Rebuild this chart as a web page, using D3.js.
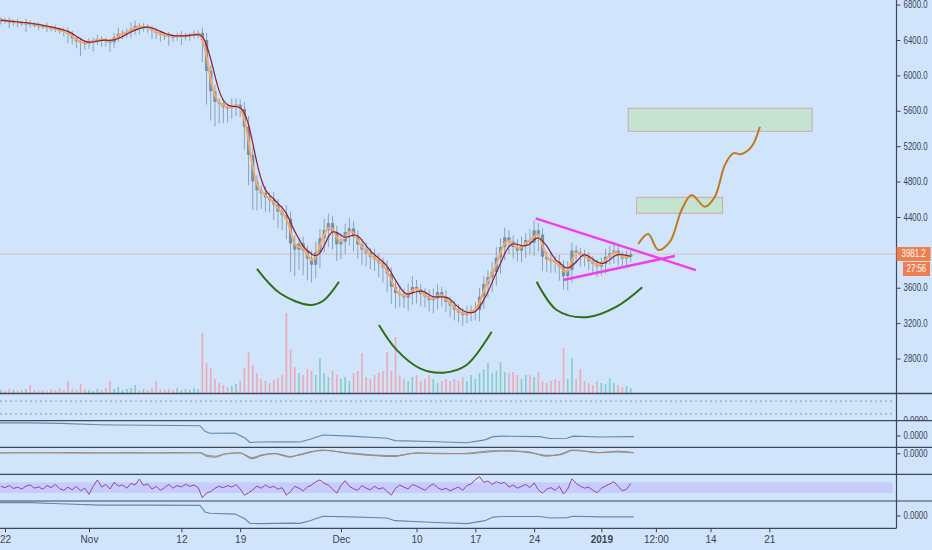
<!DOCTYPE html>
<html lang="en">
<head>
    <meta charset="UTF-8">
    <title>BTC 1h chart with drawings</title>
    <script src="https://d3js.org/d3.v7.min.js"></script>
    <style>
        body {
            margin: 0;
            background: #d0e5fb;
        }
        svg {
            display: block;
        }
    </style>
</head>
<body>
    <svg id="chart" width="932" height="550"></svg>
    <script>
        // 12h bars, first bar Oct 21 12:00
        const closes = [
            6625, 6615, 6600, 6610, 6595, 6590, 6592, 6580, 6570, 6560,
            6555, 6540, 6535, 6520, 6510, 6490, 6475, 6420, 6385, 6370,
            6360, 6380, 6395, 6410, 6405, 6385, 6375, 6430, 6470, 6480,
            6490, 6520, 6560, 6545, 6550, 6540, 6510, 6480, 6460, 6450,
            6445, 6440, 6450, 6445, 6450, 6460, 6470, 6480, 6400, 6050,
            5820, 5700, 5680, 5640, 5630, 5650, 5670, 5620, 5420, 5100,
            4800, 4700, 4670, 4620, 4590, 4540, 4460, 4420, 4380, 4100,
            4030, 4100, 4020, 3930, 3860, 4000, 4160, 4250, 4330, 4230,
            4090, 4120, 4230, 4270, 4180, 4090, 4030, 3990, 3950, 3920,
            3880, 3830, 3760, 3610, 3540, 3520, 3490, 3540, 3610, 3580,
            3530, 3500, 3460, 3480, 3550, 3500, 3440, 3400, 3350, 3320,
            3290, 3320, 3340, 3350, 3500, 3640, 3720, 3780, 3940, 4060,
            4170, 4120, 4060, 4020, 4080, 4140, 4110, 4250, 4200, 3950,
            3920, 3900, 3890, 3840, 3730, 3800, 4020, 4000, 3970, 3950,
            3900, 3870, 3840, 3870, 3950, 3990, 4020, 3960, 3930, 3950, 3981.2
        ];
        const wickUp = [
            30, 20, 40, 20, 30, 20, 50, 30, 20, 30,
            20, 40, 20, 30, 20, 30, 50, 30, 20, 30,
            20, 40, 30, 50, 30, 20, 30, 50, 70, 30,
            40, 80, 60, 30, 40, 30, 20, 30, 20, 30,
            40, 20, 30, 50, 30, 20, 40, 30, 60, 80,
            60, 70, 40, 50, 40, 90, 70, 60, 80, 120,
            90, 70, 60, 80, 60, 90, 60, 70, 110, 80,
            90, 70, 80, 60, 90, 120, 100, 130, 110, 80,
            70, 100, 90, 120, 80, 70, 60, 80, 60, 90,
            70, 60, 80, 70, 60, 90, 70, 110, 120, 80,
            60, 70, 80, 110, 90, 60, 70, 60, 50, 60,
            50, 70, 60, 90, 100, 90, 80, 110, 120, 100,
            110, 80, 70, 90, 100, 80, 120, 110, 80, 70,
            60, 70, 60, 80, 70, 100, 90, 60, 50, 60,
            50, 60, 50, 70, 90, 80, 100, 60, 50, 70, 40
        ];
        const wickDown = [
            50, 30, 70, 40, 50, 30, 100, 40, 30, 50,
            30, 50, 40, 30, 40, 50, 110, 70, 80, 150,
            70, 60, 110, 50, 80, 60, 110, 70, 50, 60,
            50, 70, 60, 80, 50, 60, 100, 70, 80, 50,
            110, 60, 50, 100, 50, 60, 40, 50, 250, 380,
            330, 280, 220, 180, 160, 120, 110, 90, 260, 340,
            320, 230, 180, 160, 140, 180, 190, 170, 230, 320,
            300, 230, 280, 240, 200, 150, 180, 160, 190, 200,
            190, 170, 140, 150, 170, 160, 170, 150, 140, 130,
            160, 170, 210, 190, 170, 140, 120, 150, 130, 160,
            140, 120, 130, 150, 130, 110, 120, 130, 120, 110,
            120, 90, 100, 110, 130, 140, 150, 170, 160, 180,
            150, 140, 130, 120, 130, 140, 130, 150, 190, 160,
            140, 130, 120, 160, 150, 160, 140, 120, 130, 110,
            100, 110, 120, 100, 110, 90, 120, 110, 90, 80, 60
        ];
        const volumes = [
            3, 2, 4, 3, 2, 3, 4, 8, 3, 2,
            3, 2, 4, 3, 5, 3, 12, 4, 3, 9,
            4, 3, 2, 4, 3, 5, 12, 4, 6, 3,
            4, 5, 8, 3, 4, 3, 5, 12, 4, 3,
            4, 3, 5, 3, 4, 3, 5, 4, 60, 30,
            25, 14, 10, 8, 6, 7, 9, 12, 25, 41,
            28, 20, 14, 12, 10, 13, 15, 18, 80, 44,
            26, 20, 18, 24, 22, 18, 35, 20, 16, 22,
            18, 14, 16, 12, 20, 22, 40, 16, 14, 18,
            20, 22, 41, 22, 56, 18, 14, 12, 16, 18,
            12, 14, 18, 14, 10, 12, 14, 12, 14, 12,
            16, 12, 18, 14, 20, 24, 30, 20, 22, 31,
            21, 20, 21, 18, 14, 18, 18, 16, 21, 12,
            10, 12, 14, 12, 45, 14, 35, 14, 24, 12,
            10, 8, 12, 10, 9, 15, 10, 8, 6, 7, 5
        ];
        const rsiValues = [
            55, 50, 58, 47, 52, 45, 56, 60, 48, 53,
            44, 58, 50, 62, 46, 40, 52, 42, 55, 38,
            48, 25, 55, 79, 52, 62, 45, 70, 56, 60,
            48, 66, 60, 82, 58, 64, 44, 55, 40, 50,
            62, 48, 58, 52, 63, 55, 60, 50, 12, 30,
            35, 48, 55, 50, 58, 52, 62, 45, 22, 30,
            42, 56, 48, 60, 50, 55, 44, 50, 22, 35,
            55, 48, 38, 52, 60, 72, 79, 66, 60, 45,
            29, 58, 76, 55, 46, 40, 58, 48, 42, 55,
            45, 50, 35, 22, 48, 60, 52, 45, 62, 56,
            48, 40, 55, 64, 50, 42, 48, 38, 46, 52,
            40, 58, 64, 80, 91, 70, 75, 62, 72, 66,
            70, 52, 60, 48, 55, 62, 50, 68, 42, 29,
            45, 50, 40, 55, 26, 45, 83, 66, 55, 48,
            52, 40, 31, 48, 56, 64, 72, 55, 38, 44, 66
        ];

        // slower indicator panes, days from Oct 22
        const indDays = [-0.6, 2.98, 6.55, 11.31, 13.1, 17.26, 23.21, 23.81, 24.4, 27.38, 28.57, 29.17, 30.36, 33.93, 35.12, 36.31,
            37.86, 41.07, 45.48, 46.43, 50.6, 55, 57.14, 58.1, 59.29, 63.69, 64.88, 66.9, 67.62, 70.83, 74.88];
        const ind1Values = [92, 92, 90, 85, 84, 83, 81, 60, 53, 54, 35, 18, 20, 21, 20, 30, 46, 42, 34, 25, 22, 17, 28, 40, 42, 40, 33, 34, 42, 39, 40];
        const ind4Values = [94, 94, 90, 85, 85, 85, 84, 60, 55, 52, 35, 18, 17, 19, 18, 28, 44, 42, 38, 28, 22, 17, 28, 41, 43, 43, 38, 39, 44, 42, 42];
        const oscDays = [-0.6, 5.36, 11.31, 17.26, 23.21, 24.05, 25, 26.19, 27.98, 29.4, 30.6, 32.14, 33.93, 35.12, 37.86, 40.71,
            43.1, 46.19, 49.05, 51.79, 55, 58.1, 59.76, 62.5, 64.52, 66.07, 67.62, 70.83, 72.86, 74.88];
        const oscA = [80, 80, 79, 80, 80, 66, 63, 75, 79, 58, 70, 76, 63, 74, 90, 78, 71, 66, 80, 76, 78, 87, 86, 82, 67, 74, 90, 80, 85, 80];
        const oscB = [79, 80, 80, 79, 80, 70, 67, 76, 80, 62, 72, 78, 66, 72, 88, 80, 73, 69, 78, 78, 76, 85, 88, 80, 70, 72, 88, 81, 83, 80];
        const levelLines = [72, 25];
        const rsiBand = [30, 70];

        // drawings, [day from Oct 22, price]
        const arcLeft = [[30.0, 3812], [32.74, 3537], [36.31, 3405], [37.89, 3453], [39.76, 3668]];
        const arcMiddle = [[44.52, 3179], [46.63, 2897], [49.4, 2689], [52.18, 2640], [54.96, 2727], [57.94, 3103]];
        const arcRight = [[63.3, 3668], [65.68, 3348], [69.25, 3266], [72.82, 3386], [75.87, 3605]];
        const triangleTop = [[63.18, 4385], [82.26, 3800]];
        const triangleBottom = [[66.46, 3687], [79.76, 3959]];
        const projection = [[75.39, 4094], [76.58, 4207], [77.77, 4027], [79.17, 4120], [80.56, 4479], [81.75, 4648], [83.33, 4516],
            [84.52, 4629], [85.71, 4987], [86.7, 5119], [87.7, 5111], [88.89, 5194], [89.88, 5420]];
        const boxDays = [[74.2, 96.1], [75.2, 85.44]];
        const boxPrices = [[5628, 5368], [4622, 4441]];

        const priceTicks = [6800, 6400, 6000, 5600, 5200, 4800, 4400, 3600, 3200, 2800];
        const lastPrice = 3981.2;
        const countdown = "27:56";
        const tickDays = [0, 10, 21, 28, 40, 49, 56, 63, 71, 77.5, 84, 91];
        const tickLabels = ["22", "Nov", "12", "19", "Dec", "10", "17", "24", "2019", "12:00", "14", "21"];

        const DAY = 864e5;
        const base = Date.UTC(2018, 9, 22);
        const day = n => new Date(base + n * DAY);
        const barTime = closes.map((_, i) => day(i * 0.5 - 0.5));

        const plotRight = 896.5;
        const edges = [393.5, 420.7, 447.3, 474.3, 501, 528.3];
        const font = "'Liberation Sans', Arial, sans-serif";
        const axisColor = "#3d4250";
        const squeeze = 0.79;

        const svg = d3.select("#chart");
        const x = d3.scaleUtc().domain([day(0), day(91)]).range([5, 769.3]);
        const y = d3.scaleLinear().domain([2800, 6800]).range([358.5, 4.6]);
        const yVol = d3.scaleLinear().domain([0, 80]).range([edges[0] - 0.5, 313]);
        const pane = k => d3.scaleLinear().domain([0, 100]).range([edges[k + 1], edges[k]]);

        const defs = svg.append("defs");
        defs.append("clipPath").attr("id", "mainClip")
            .append("rect").attr("width", plotRight).attr("height", edges[0]);
        defs.append("clipPath").attr("id", "pane0Clip")
            .append("rect").attr("y", edges[0]).attr("width", 932).attr("height", edges[1] - edges[0]);

        const main = svg.append("g").attr("clip-path", "url(#mainClip)");

        // last price line
        main.append("line")
            .attr("x1", 0).attr("x2", plotRight)
            .attr("y1", y(lastPrice)).attr("y2", y(lastPrice))
            .attr("stroke", "#d9a892").attr("stroke-opacity", 0.6);

        const bars = closes.map((c, i) => {
            const o = i ? closes[i - 1] : c;
            return { t: barTime[i], o, c, hi: Math.max(o, c) + wickUp[i], lo: Math.min(o, c) - wickDown[i], v: volumes[i] };
        });

        main.selectAll("rect.vol")
            .data(bars)
            .join("rect")
            .attr("class", "vol")
            .attr("x", d => x(d.t) - 0.8)
            .attr("width", 1.6)
            .attr("y", d => yVol(d.v))
            .attr("height", d => yVol(0) - yVol(d.v))
            .attr("fill", d => d.c >= d.o ? "#6fc6bb" : "#f19ba3")
            .attr("opacity", 0.8);

        main.selectAll("line.wick")
            .data(bars)
            .join("line")
            .attr("class", "wick")
            .attr("x1", d => x(d.t)).attr("x2", d => x(d.t))
            .attr("y1", d => y(d.hi)).attr("y2", d => y(d.lo))
            .attr("stroke", "#7a96b2")
            .attr("stroke-width", 1)
            .attr("stroke-opacity", 0.85);

        main.selectAll("rect.body")
            .data(bars)
            .join("rect")
            .attr("class", "body")
            .attr("x", d => x(d.t) - 1.6)
            .attr("width", 3.2)
            .attr("y", d => y(Math.max(d.o, d.c)))
            .attr("height", d => Math.max(1.5, Math.abs(y(d.o) - y(d.c))))
            .attr("fill", "#7390ae");

        const sma = (arr, n) => arr.map((_, i) => d3.mean(arr.slice(Math.max(0, i - n + 1), i + 1)));
        const maLine = d3.line().x((d, i) => x(barTime[i])).y(d => y(d)).curve(d3.curveBasis);

        main.append("path")
            .attr("d", maLine(sma(closes, 2)))
            .attr("fill", "none")
            .attr("stroke", "#f5aa62")
            .attr("stroke-width", 2);
        main.append("path")
            .attr("d", maLine(sma(closes, 4)))
            .attr("fill", "none")
            .attr("stroke", "#8a1f3c")
            .attr("stroke-width", 1.2);

        // drawings
        main.selectAll("rect.box")
            .data(boxDays)
            .join("rect")
            .attr("class", "box")
            .attr("x", d => x(day(d[0])))
            .attr("width", d => x(day(d[1])) - x(day(d[0])))
            .attr("y", (d, i) => y(boxPrices[i][0]))
            .attr("height", (d, i) => y(boxPrices[i][1]) - y(boxPrices[i][0]))
            .attr("fill", "#c4e3d0")
            .attr("stroke", "#d3a6a6")
            .attr("stroke-width", 1);

        const drawLine = d3.line().x(d => x(day(d[0]))).y(d => y(d[1])).curve(d3.curveCatmullRom);
        [arcLeft, arcMiddle, arcRight].forEach(arc => {
            main.append("path")
                .attr("d", drawLine(arc))
                .attr("fill", "none")
                .attr("stroke", "#2f6e16")
                .attr("stroke-width", 2);
        });
        [triangleTop, triangleBottom].forEach(seg => {
            main.append("path")
                .attr("d", drawLine(seg))
                .attr("fill", "none")
                .attr("stroke", "#f03df0")
                .attr("stroke-width", 2.4);
        });
        main.append("path")
            .attr("d", drawLine(projection))
            .attr("fill", "none")
            .attr("stroke", "#c0791f")
            .attr("stroke-width", 2);

        // lower panes
        const p0 = pane(0);
        svg.selectAll("line.level")
            .data(levelLines)
            .join("line")
            .attr("class", "level")
            .attr("x1", 0).attr("x2", 893)
            .attr("y1", d => p0(d)).attr("y2", d => p0(d))
            .attr("stroke", "#8798ad")
            .attr("stroke-dasharray", "2,3");

        const p1 = pane(1);
        svg.append("path")
            .attr("d", d3.line().x((d, i) => x(day(indDays[i]))).y(d => p1(d))(ind1Values))
            .attr("fill", "none")
            .attr("stroke", "#6a85a6")
            .attr("stroke-width", 1.1);

        const p2 = pane(2);
        const oscLine = d3.line().x((d, i) => x(day(oscDays[i]))).y(d => p2(d)).curve(d3.curveMonotoneX);
        svg.append("path").attr("d", oscLine(oscB))
            .attr("fill", "none").attr("stroke", "#5fa9a6").attr("stroke-width", 1.1);
        svg.append("path").attr("d", oscLine(oscA))
            .attr("fill", "none").attr("stroke", "#b88070").attr("stroke-width", 1.1);

        const p3 = pane(3);
        svg.append("rect")
            .attr("x", 0).attr("width", 893)
            .attr("y", p3(rsiBand[1]))
            .attr("height", p3(rsiBand[0]) - p3(rsiBand[1]))
            .attr("fill", "#bdb6fa")
            .attr("opacity", 0.5);
        svg.append("path")
            .attr("d", d3.line().x((d, i) => x(barTime[i])).y(d => p3(d))(rsiValues))
            .attr("fill", "none")
            .attr("stroke", "#9440b0")
            .attr("stroke-width", 1);

        const p4 = pane(4);
        svg.append("path")
            .attr("d", d3.line().x((d, i) => x(day(indDays[i]))).y(d => p4(d))(ind4Values))
            .attr("fill", "none")
            .attr("stroke", "#6a85a6")
            .attr("stroke-width", 1.1);

        // frame
        svg.selectAll("line.sep")
            .data(edges)
            .join("line")
            .attr("class", "sep")
            .attr("x1", 0)
            .attr("x2", (d, i) => i === edges.length - 1 ? plotRight : 932)
            .attr("y1", d => d).attr("y2", d => d)
            .attr("stroke", "#414656")
            .attr("stroke-width", (d, i) => i === 0 ? 1.6 : 1.2);
        svg.append("line")
            .attr("x1", plotRight).attr("x2", plotRight)
            .attr("y1", 0).attr("y2", edges[5])
            .attr("stroke", "#414656")
            .attr("stroke-width", 1.2);

        const yAxis = svg.append("g")
            .attr("transform", `translate(${plotRight},0)`)
            .call(d3.axisRight(y).tickValues(priceTicks).tickFormat(d3.format(".1f")).tickSize(4).tickPadding(3));
        const xAxis = svg.append("g")
            .attr("transform", `translate(0,${edges[5]})`)
            .call(d3.axisBottom(x).tickValues(tickDays.map(day)).tickFormat((d, i) => tickLabels[i]).tickSize(4).tickPadding(4));
        [yAxis, xAxis].forEach(g => {
            g.select(".domain").remove();
            g.attr("font-family", font).attr("font-size", 10).attr("color", axisColor);
        });
        // the price scale in the original uses a narrow face
        yAxis.selectAll("text").attr("x", 0).attr("transform", `translate(7,0) scale(${squeeze},1)`);
        xAxis.selectAll("text").attr("font-weight", (d, i) => tickLabels[i] === "2019" ? "bold" : null);

        const narrowText = (parent, tx, ty, label, color) => parent.append("text")
            .attr("transform", `translate(${tx},${ty}) scale(${squeeze},1)`)
            .attr("dy", "0.33em")
            .attr("font-family", font).attr("font-size", 10).attr("fill", color)
            .text(label);

        // pane value labels
        const paneLabels = [[p1, 42.5], [p2, 76], [p4, 45]];
        paneLabels.forEach(([s, v]) => {
            svg.append("line")
                .attr("x1", plotRight).attr("x2", plotRight + 4)
                .attr("y1", s(v)).attr("y2", s(v))
                .attr("stroke", axisColor);
            narrowText(svg, plotRight + 7, s(v), "0.0000", axisColor);
        });
        narrowText(svg.append("g").attr("clip-path", "url(#pane0Clip)"), plotRight + 7, p0(0), "0.0000", axisColor);

        // last price tag
        const tagY = y(lastPrice);
        svg.append("rect")
            .attr("x", plotRight).attr("y", tagY - 7)
            .attr("width", 932 - plotRight - 1.5).attr("height", 14)
            .attr("fill", "#ef7e4f");
        narrowText(svg, plotRight + 5, tagY, lastPrice.toFixed(1), "#ffffff");
        svg.append("rect")
            .attr("x", plotRight + 6.5).attr("y", tagY + 8)
            .attr("width", 27).attr("height", 14)
            .attr("fill", "#ef7e4f");
        narrowText(svg, plotRight + 10, tagY + 15, countdown, "#ffffff");
    </script>
</body>
</html>
